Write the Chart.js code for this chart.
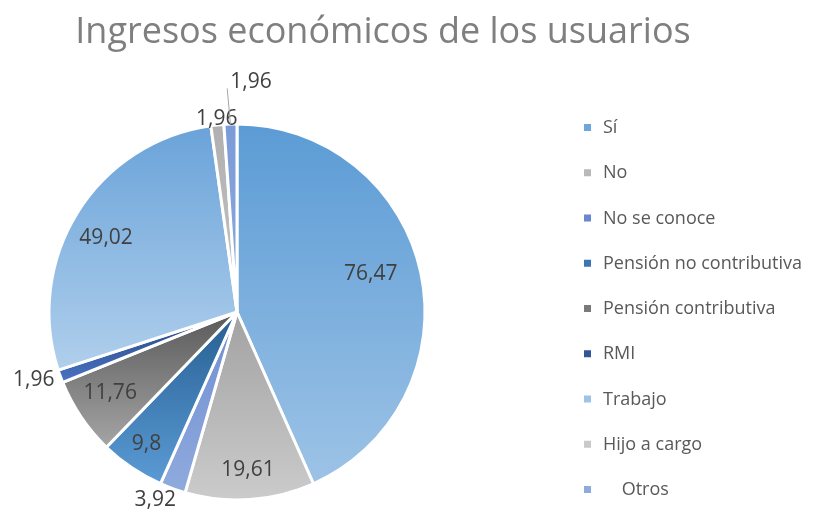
<!DOCTYPE html>
<html>
<head>
<meta charset="utf-8">
<script src="https://cdn.jsdelivr.net/npm/chart.js@4.4.0/dist/chart.umd.min.js"></script>
<style>
  html, body { margin: 0; padding: 0; background: #fff; }
  #wrap { width: 837px; height: 515px; }
</style>
</head>
<body>
<div id="wrap"><canvas id="chart" width="837" height="515"></canvas></div>
<script>
// Datos del gráfico
const TITLE = 'Ingresos económicos de los usuarios';
const CATEGORIES = ['Sí', 'No', 'No se conoce', 'Pensión no contributiva', 'Pensión contributiva', 'RMI', 'Trabajo', 'Hijo a cargo', '    Otros'];
const VALUES = [76.47, 19.61, 3.92, 9.8, 11.76, 1.96, 49.02, 1.96, 1.96];

// Estilos (colores de degradado por porción, arriba -> abajo)
const TOP_COLORS = ['#5b9bd5', '#a2a2a2', '#6f8ed3', '#255e91', '#595959', '#264478', '#6aa3d9', '#b0b0b0', '#7b9bd8'];
const BOTTOM_COLORS = ['#9dc3e6', '#cbcbcb', '#8faadc', '#5b9bd5', '#a5a5a5', '#4a73c4', '#b0cfec', '#c4c4c4', '#8faadc'];
const LEGEND_COLORS = ['#6fa7da', '#b9b9b9', '#6a86d0', '#3a76b3', '#7a7a7a', '#34559a', '#9dc3e6', '#c9c9c9', '#8faadc'];
// posición de cada etiqueta: fracción del radio y giro en grados
const LABEL_RADIUS = [0.74, 0.84, 1.09, 0.85, 0.80, 1.14, 0.80, 1.03, 1.19];
const LABEL_SHIFT = [-4, 0, 3.5, 0.5, 1.5, 1.5, -2.5, 0, 0];
const PIE_RADIUS = 188;
const TEXT_COLOR = '#404040';

function formatValue(v) {
  return String(v).replace('.', ',');
}

/**
 * Degradado vertical sobre la caja de cada porción (como Excel)
 */
function sliceGradient(context) {
  const chart = context.chart;
  const area = chart.chartArea;
  const i = context.dataIndex;
  if (!area) return TOP_COLORS[i];

  const total = VALUES.reduce((a, b) => a + b, 0);
  let before = 0;
  for (let k = 0; k < i; k++) before += VALUES[k];
  const a0 = -Math.PI / 2 + before / total * 2 * Math.PI;
  const a1 = a0 + VALUES[i] / total * 2 * Math.PI;
  const cy = (area.top + area.bottom) / 2;
  const r = PIE_RADIUS;

  const ys = [cy, cy + r * Math.sin(a0), cy + r * Math.sin(a1)];
  [-Math.PI / 2, Math.PI / 2, 3 * Math.PI / 2].forEach(a => {
    if (a >= a0 && a <= a1) ys.push(cy + r * Math.sin(a));
  });

  const g = chart.ctx.createLinearGradient(0, Math.min(...ys), 0, Math.max(...ys));
  g.addColorStop(0, TOP_COLORS[i]);
  g.addColorStop(1, BOTTOM_COLORS[i]);
  return g;
}

// Título, leyenda y etiquetas de datos al estilo Excel
const excelDecor = {
  id: 'excelDecor',
  afterDatasetsDraw(chart) {
    const ctx = chart.ctx;
    const meta = chart.getDatasetMeta(0);

    ctx.save();
    ctx.font = '21px "Open Sans"';
    ctx.fillStyle = TEXT_COLOR;
    ctx.textBaseline = 'middle';
    meta.data.forEach((arc, i) => {
      const p = arc.getProps(['x', 'y', 'startAngle', 'endAngle', 'outerRadius'], true);
      const mid = (p.startAngle + p.endAngle) / 2;
      const ang = mid + LABEL_SHIFT[i] * Math.PI / 180;
      const r = p.outerRadius * LABEL_RADIUS[i];
      const x = p.x + Math.cos(ang) * r;
      const y = p.y + Math.sin(ang) * r;
      const text = formatValue(VALUES[i]);
      if (i === VALUES.length - 1) {
        // línea guía
        ctx.strokeStyle = '#a6a6a6';
        ctx.lineWidth = 1;
        ctx.beginPath();
        ctx.moveTo(p.x + Math.cos(mid) * p.outerRadius, p.y + Math.sin(mid) * p.outerRadius);
        ctx.lineTo(x - 2, y);
        ctx.stroke();
        ctx.textAlign = 'left';
        ctx.fillText(text, x + 1, y - 6);
      } else {
        ctx.textAlign = 'center';
        ctx.fillText(text, x, y);
      }
    });

    // título
    ctx.font = '36px "Open Sans"';
    ctx.fillStyle = '#7f7f7f';
    ctx.textAlign = 'center';
    ctx.fillText(TITLE, 383, 33);

    // leyenda
    ctx.font = '18px "Open Sans"';
    ctx.textAlign = 'left';
    CATEGORIES.forEach((label, i) => {
      const y = 128 + i * 45.25;
      ctx.fillStyle = LEGEND_COLORS[i];
      ctx.fillRect(584, y - 4, 7, 7);
      ctx.fillStyle = '#595959';
      ctx.fillText(label, 603, y);
    });
    ctx.restore();
  }
};

new Chart(document.getElementById('chart'), {
  type: 'pie',
  data: {
    labels: CATEGORIES,
    datasets: [{
      data: VALUES,
      backgroundColor: sliceGradient,
      borderColor: '#ffffff',
      borderWidth: 3
    }]
  },
  options: {
    responsive: false,
    animation: false,
    events: [],
    radius: PIE_RADIUS,
    layout: { padding: { left: 0, right: 363, top: 124, bottom: 15 } },
    plugins: {
      legend: { display: false },
      title: { display: false },
      tooltip: { enabled: false }
    }
  },
  plugins: [excelDecor]
});
</script>
</body>
</html>
